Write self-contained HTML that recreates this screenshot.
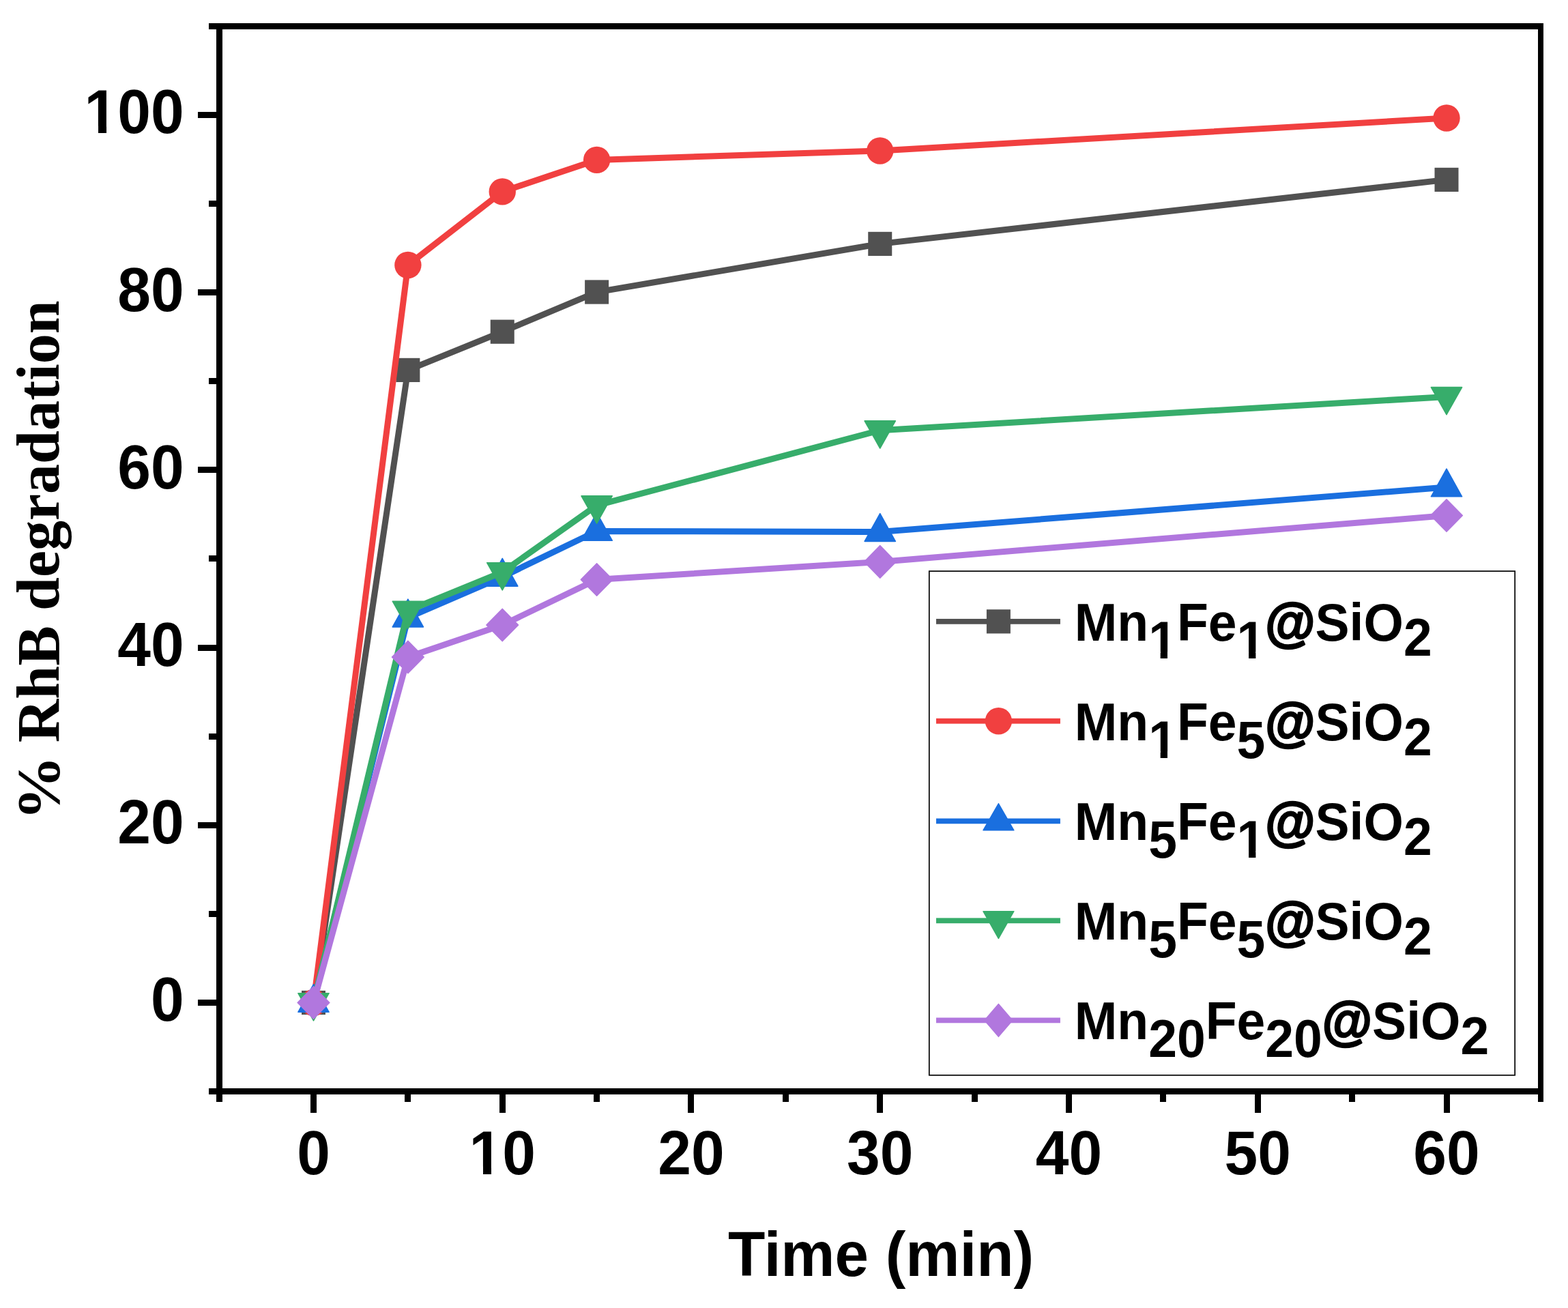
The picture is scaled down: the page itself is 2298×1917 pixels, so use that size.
<!DOCTYPE html>
<html><head><meta charset="utf-8"><style>
html,body{margin:0;padding:0;background:#fff;}
svg{display:block;}
.s{font-family:"Liberation Sans",Arial,sans-serif;font-weight:bold;}
.t{font-family:"Liberation Serif","Times New Roman",serif;font-weight:bold;}
</style></head><body>
<svg width="2298" height="1917" viewBox="0 0 2298 1917">
<rect width="2298" height="1917" fill="#fff"/>
<g>
<polyline points="459.50,1469.50 597.88,542.40 736.25,486.20 874.62,428.00 1289.75,357.40 2120.00,263.40" fill="none" stroke="#515151" stroke-width="9.0" stroke-linejoin="miter"/>
<rect x="442.00" y="1451.90" width="35" height="35.2" fill="#515151"/>
<rect x="580.38" y="524.80" width="35" height="35.2" fill="#515151"/>
<rect x="718.75" y="468.60" width="35" height="35.2" fill="#515151"/>
<rect x="857.12" y="410.40" width="35" height="35.2" fill="#515151"/>
<rect x="1272.25" y="339.80" width="35" height="35.2" fill="#515151"/>
<rect x="2102.50" y="245.80" width="35" height="35.2" fill="#515151"/>
<polyline points="459.50,1469.50 597.88,388.50 736.25,280.90 874.62,234.40 1289.75,221.00 2120.00,173.00" fill="none" stroke="#F14040" stroke-width="9.0" stroke-linejoin="miter"/>
<circle cx="459.50" cy="1469.50" r="19.7" fill="#F14040"/>
<circle cx="597.88" cy="388.50" r="19.7" fill="#F14040"/>
<circle cx="736.25" cy="280.90" r="19.7" fill="#F14040"/>
<circle cx="874.62" cy="234.40" r="19.7" fill="#F14040"/>
<circle cx="1289.75" cy="221.00" r="19.7" fill="#F14040"/>
<circle cx="2120.00" cy="173.00" r="19.7" fill="#F14040"/>
<polyline points="459.50,1469.50 597.88,905.10 736.25,845.30 874.62,778.40 1289.75,779.60 2120.00,714.00" fill="none" stroke="#1A6FDF" stroke-width="9.0" stroke-linejoin="miter"/>
<polygon points="459.50,1442.60 482.10,1483.30 436.90,1483.30" fill="#1A6FDF" stroke="#1A6FDF" stroke-width="1.6" stroke-linejoin="round"/>
<polygon points="597.88,878.20 620.48,918.90 575.27,918.90" fill="#1A6FDF" stroke="#1A6FDF" stroke-width="1.6" stroke-linejoin="round"/>
<polygon points="736.25,818.40 758.85,859.10 713.65,859.10" fill="#1A6FDF" stroke="#1A6FDF" stroke-width="1.6" stroke-linejoin="round"/>
<polygon points="874.62,751.50 897.23,792.20 852.02,792.20" fill="#1A6FDF" stroke="#1A6FDF" stroke-width="1.6" stroke-linejoin="round"/>
<polygon points="1289.75,752.70 1312.35,793.40 1267.15,793.40" fill="#1A6FDF" stroke="#1A6FDF" stroke-width="1.6" stroke-linejoin="round"/>
<polygon points="2120.00,687.10 2142.60,727.80 2097.40,727.80" fill="#1A6FDF" stroke="#1A6FDF" stroke-width="1.6" stroke-linejoin="round"/>
<polyline points="459.50,1469.50 597.88,895.00 736.25,838.50 874.62,740.70 1289.75,630.70 2120.00,581.40" fill="none" stroke="#37AD6B" stroke-width="9.0" stroke-linejoin="miter"/>
<polygon points="459.50,1495.80 482.10,1455.70 436.90,1455.70" fill="#37AD6B" stroke="#37AD6B" stroke-width="1.6" stroke-linejoin="round"/>
<polygon points="597.88,921.30 620.48,881.20 575.27,881.20" fill="#37AD6B" stroke="#37AD6B" stroke-width="1.6" stroke-linejoin="round"/>
<polygon points="736.25,864.80 758.85,824.70 713.65,824.70" fill="#37AD6B" stroke="#37AD6B" stroke-width="1.6" stroke-linejoin="round"/>
<polygon points="874.62,767.00 897.23,726.90 852.02,726.90" fill="#37AD6B" stroke="#37AD6B" stroke-width="1.6" stroke-linejoin="round"/>
<polygon points="1289.75,657.00 1312.35,616.90 1267.15,616.90" fill="#37AD6B" stroke="#37AD6B" stroke-width="1.6" stroke-linejoin="round"/>
<polygon points="2120.00,607.70 2142.60,567.60 2097.40,567.60" fill="#37AD6B" stroke="#37AD6B" stroke-width="1.6" stroke-linejoin="round"/>
<polyline points="459.50,1469.50 597.88,963.00 736.25,916.00 874.62,849.50 1289.75,823.40 2120.00,755.50" fill="none" stroke="#B177DE" stroke-width="9.0" stroke-linejoin="miter"/>
<polygon points="459.50,1445.70 482.90,1469.50 459.50,1493.30 436.10,1469.50" fill="#B177DE" stroke="#B177DE" stroke-width="1.4" stroke-linejoin="round"/>
<polygon points="597.88,939.20 621.27,963.00 597.88,986.80 574.48,963.00" fill="#B177DE" stroke="#B177DE" stroke-width="1.4" stroke-linejoin="round"/>
<polygon points="736.25,892.20 759.65,916.00 736.25,939.80 712.85,916.00" fill="#B177DE" stroke="#B177DE" stroke-width="1.4" stroke-linejoin="round"/>
<polygon points="874.62,825.70 898.02,849.50 874.62,873.30 851.23,849.50" fill="#B177DE" stroke="#B177DE" stroke-width="1.4" stroke-linejoin="round"/>
<polygon points="1289.75,799.60 1313.15,823.40 1289.75,847.20 1266.35,823.40" fill="#B177DE" stroke="#B177DE" stroke-width="1.4" stroke-linejoin="round"/>
<polygon points="2120.00,731.70 2143.40,755.50 2120.00,779.30 2096.60,755.50" fill="#B177DE" stroke="#B177DE" stroke-width="1.4" stroke-linejoin="round"/>
</g>
<rect x="1361.8" y="837.1" width="858.4" height="738.7" fill="none" stroke="#000" stroke-width="1.7"/>
<rect x="1372.0" y="906.95" width="181.9" height="7.8" fill="#515151"/>
<rect x="1445.90" y="893.25" width="35" height="35.2" fill="#515151"/>
<rect x="1372.0" y="1052.85" width="181.9" height="7.8" fill="#F14040"/>
<circle cx="1463.40" cy="1056.75" r="19.7" fill="#F14040"/>
<rect x="1372.0" y="1199.50" width="181.9" height="7.8" fill="#1A6FDF"/>
<polygon points="1463.40,1177.80 1485.80,1216.80 1441.00,1216.80" fill="#1A6FDF" stroke="#1A6FDF" stroke-width="1.6" stroke-linejoin="round"/>
<rect x="1372.0" y="1345.40" width="181.9" height="7.8" fill="#37AD6B"/>
<polygon points="1463.40,1375.40 1485.80,1335.70 1441.00,1335.70" fill="#37AD6B" stroke="#37AD6B" stroke-width="1.6" stroke-linejoin="round"/>
<rect x="1372.0" y="1491.50" width="181.9" height="7.8" fill="#B177DE"/>
<polygon points="1463.40,1471.40 1484.00,1495.40 1463.40,1519.40 1442.80,1495.40" fill="#B177DE" stroke="#B177DE" stroke-width="1.4" stroke-linejoin="round"/>
<g class="s" transform="scale(1,1.04)">
<text x="1574.7" y="902.84" font-size="75.1">Mn<tspan dy="24.90">1</tspan><tspan dy="-24.90">Fe</tspan><tspan dy="24.90">1</tspan><tspan dy="-24.90" stroke="#000" stroke-width="2.6" stroke-linejoin="round">@</tspan><tspan>SiO</tspan><tspan dy="20.87">2</tspan></text>
<rect x="1686.36" y="918.48" width="14.30" height="10.46" fill="#fff"/><rect x="1710.97" y="918.48" width="13.34" height="10.46" fill="#fff"/>
<rect x="1815.77" y="918.48" width="14.30" height="10.46" fill="#fff"/><rect x="1840.37" y="918.48" width="13.34" height="10.46" fill="#fff"/>
<text x="1574.7" y="1043.12" font-size="75.1">Mn<tspan dy="24.90">1</tspan><tspan dy="-24.90">Fe</tspan><tspan dy="24.90">5</tspan><tspan dy="-24.90" stroke="#000" stroke-width="2.6" stroke-linejoin="round">@</tspan><tspan>SiO</tspan><tspan dy="20.87">2</tspan></text>
<rect x="1686.36" y="1058.76" width="14.30" height="10.46" fill="#fff"/><rect x="1710.97" y="1058.76" width="13.34" height="10.46" fill="#fff"/>
<text x="1574.7" y="1184.13" font-size="75.1">Mn<tspan dy="24.90">5</tspan><tspan dy="-24.90">Fe</tspan><tspan dy="24.90">1</tspan><tspan dy="-24.90" stroke="#000" stroke-width="2.6" stroke-linejoin="round">@</tspan><tspan>SiO</tspan><tspan dy="20.87">2</tspan></text>
<rect x="1815.77" y="1199.77" width="14.30" height="10.46" fill="#fff"/><rect x="1840.37" y="1199.77" width="13.34" height="10.46" fill="#fff"/>
<text x="1574.7" y="1324.42" font-size="75.1">Mn<tspan dy="24.90">5</tspan><tspan dy="-24.90">Fe</tspan><tspan dy="24.90">5</tspan><tspan dy="-24.90" stroke="#000" stroke-width="2.6" stroke-linejoin="round">@</tspan><tspan>SiO</tspan><tspan dy="20.87">2</tspan></text>
<text x="1574.7" y="1464.90" font-size="75.1">Mn<tspan dy="24.90">20</tspan><tspan dy="-24.90">Fe</tspan><tspan dy="24.90">20</tspan><tspan dy="-24.90" stroke="#000" stroke-width="2.6" stroke-linejoin="round">@</tspan><tspan>SiO</tspan><tspan dy="20.87">2</tspan></text>
</g>
<g fill="#000">
<rect x="306" y="34" width="1956" height="9"/>
<rect x="306" y="1595" width="1956" height="9"/>
<rect x="317" y="34" width="9" height="1581"/>
<rect x="2254" y="34" width="8" height="1581"/>
<rect x="290" y="1465" width="27" height="9"/>
<rect x="306" y="1335" width="11" height="9"/>
<rect x="290" y="1205" width="27" height="9"/>
<rect x="306" y="1075" width="11" height="9"/>
<rect x="290" y="945" width="27" height="9"/>
<rect x="306" y="814" width="11" height="9"/>
<rect x="290" y="684" width="27" height="9"/>
<rect x="306" y="554" width="11" height="9"/>
<rect x="290" y="424" width="27" height="9"/>
<rect x="306" y="294" width="11" height="9"/>
<rect x="290" y="164" width="27" height="9"/>
<rect x="455" y="1604" width="9" height="27"/>
<rect x="593" y="1604" width="9" height="11"/>
<rect x="732" y="1604" width="9" height="27"/>
<rect x="870" y="1604" width="9" height="11"/>
<rect x="1008" y="1604" width="9" height="27"/>
<rect x="1147" y="1604" width="9" height="11"/>
<rect x="1285" y="1604" width="9" height="27"/>
<rect x="1424" y="1604" width="9" height="11"/>
<rect x="1562" y="1604" width="9" height="27"/>
<rect x="1700" y="1604" width="9" height="11"/>
<rect x="1839" y="1604" width="9" height="27"/>
<rect x="1977" y="1604" width="9" height="11"/>
<rect x="2116" y="1604" width="9" height="27"/>
</g>
<g class="s" font-size="87.5" transform="scale(1,1.04)">
<text x="269.6" y="1438.85" text-anchor="end">0</text>
<text x="269.6" y="1188.65" text-anchor="end">20</text>
<text x="269.6" y="938.46" text-anchor="end">40</text>
<text x="269.6" y="688.27" text-anchor="end">60</text>
<text x="269.6" y="438.08" text-anchor="end">80</text>
<text x="269.6" y="187.88" text-anchor="end">100</text>
<rect x="127.62" y="177.36" width="16.41" height="11.73" fill="#fff"/><rect x="156.04" y="177.36" width="15.30" height="11.73" fill="#fff"/>
<text x="459.50" y="1654.42" text-anchor="middle">0</text>
<text x="736.25" y="1654.42" text-anchor="middle">10</text>
<rect x="691.60" y="1643.89" width="16.41" height="11.73" fill="#fff"/><rect x="720.01" y="1643.89" width="15.30" height="11.73" fill="#fff"/>
<text x="1013.00" y="1654.42" text-anchor="middle">20</text>
<text x="1289.75" y="1654.42" text-anchor="middle">30</text>
<text x="1566.50" y="1654.42" text-anchor="middle">40</text>
<text x="1843.25" y="1654.42" text-anchor="middle">50</text>
<text x="2120.00" y="1654.42" text-anchor="middle">60</text>
<text x="1066.9" y="1798.27" font-size="89">Time (min)</text>
</g>
<g class="t" font-size="88.0">
<text transform="translate(85.8,1088.2) rotate(-90)">RhB degradation</text>
<text transform="translate(85.8,1202.6) rotate(-90) scale(1.08,1)">%</text>
</g>
</svg>
</body></html>
